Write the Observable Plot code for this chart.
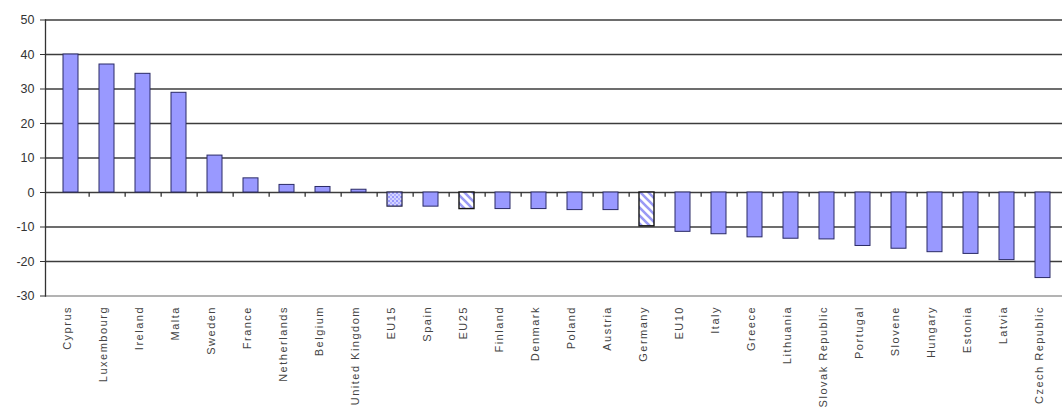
<!DOCTYPE html>
<html>
<head>
<meta charset="utf-8">
<script src="https://cdn.jsdelivr.net/npm/d3@7"></script>
<script src="https://cdn.jsdelivr.net/npm/@observablehq/plot@0.6"></script>
<style>
  html, body { margin: 0; padding: 0; background: #fff; }
  #chart svg { display: block; }
</style>
</head>
<body>
<div id="chart"></div>
<script>
// Percentage change by country, ordered from largest gain to largest fall
const countries = [
  "Cyprus", "Luxembourg", "Ireland", "Malta", "Sweden", "France", "Netherlands",
  "Belgium", "United Kingdom", "EU15", "Spain", "EU25", "Finland", "Denmark",
  "Poland", "Austria", "Germany", "EU10", "Italy", "Greece", "Lithuania",
  "Slovak Republic", "Portugal", "Slovene", "Hungary", "Estonia", "Latvia",
  "Czech Republic"
];
const change = [
  40.0, 37.1, 34.4, 28.9, 10.7, 4.1, 2.2,
  1.6, 0.8, -4.1, -4.1, -4.8, -4.8, -4.8,
  -5.1, -5.1, -9.8, -11.4, -12.1, -13.0, -13.4,
  -13.6, -15.5, -16.3, -17.3, -17.8, -19.6,
  -24.8
];
// Bars drawn with a pattern instead of the solid fill
const dottedBars = ["EU15"];
const stripedBars = ["EU25", "Germany"];
const yTicks = [50, 40, 30, 20, 10, 0, -10, -20, -30];

const data = countries.map((country, i) => ({country, value: change[i]}));
const solid = data.filter(d => !dottedBars.includes(d.country) && !stripedBars.includes(d.country));
const dotted = data.filter(d => dottedBars.includes(d.country));
const striped = data.filter(d => stripedBars.includes(d.country));

const xRange = [48, 1065];
const step = (xRange[1] - xRange[0]) / countries.length;
const font = "'Liberation Sans', Arial, sans-serif";

const chart = Plot.plot({
  width: 1062,
  height: 409,
  marginLeft: 45,
  marginRight: 0,
  marginTop: 19.5,
  marginBottom: 113.5,
  style: {fontFamily: font, background: "#fff", color: "#333"},
  x: {domain: countries, range: xRange, paddingInner: 0.58, paddingOuter: 0.29},
  y: {domain: [-30, 50]},
  marks: [
    Plot.ruleY(yTicks.filter(t => t !== -30), {stroke: "#3c3c3c", strokeWidth: 1.7}),
    Plot.ruleY([-30], {stroke: "#9a9a9a", strokeWidth: 1.7}),
    Plot.barY(solid, {x: "country", y: "value", fill: "#9999ff", stroke: "#2a2a66", strokeWidth: 1}),
    Plot.barY(dotted, {x: "country", y: "value", fill: "url(#dots)", stroke: "#222244", strokeWidth: 1.2}),
    Plot.barY(striped, {x: "country", y: "value", fill: "url(#stripes)", stroke: "#111", strokeWidth: 1.4}),
    Plot.ruleX(countries.slice(0, -1), {x: d => d, y1: 0, y2: -1.4, dx: step / 2, stroke: "#333", strokeWidth: 1.3}),
    Plot.frame({anchor: "left", stroke: "#333", strokeWidth: 1.3}),
    Plot.axisY({ticks: yTicks, tickFormat: d => String(d), tickSize: 5, tickPadding: 6, label: null, fontSize: 12.5, fill: "#333", stroke: "#333"}),
    Plot.axisX({anchor: "bottom", tickSize: 0, tickPadding: 10, tickRotate: -90, label: null, fontSize: 11, dx: -4, fill: "#444"})
  ]
});

// Fill patterns for the hatched bars
const svg = d3.select(chart);
const defs = svg.insert("defs", ":first-child");
const dots = defs.append("pattern")
  .attr("id", "dots").attr("patternUnits", "userSpaceOnUse")
  .attr("width", 4).attr("height", 4);
dots.append("rect").attr("width", 4).attr("height", 4).attr("fill", "#d4d4ff");
dots.append("rect").attr("width", 2).attr("height", 2).attr("fill", "#9999ff");
dots.append("rect").attr("x", 2).attr("y", 2).attr("width", 2).attr("height", 2).attr("fill", "#b0b0ff");
const stripes = defs.append("pattern")
  .attr("id", "stripes").attr("patternUnits", "userSpaceOnUse")
  .attr("width", 8).attr("height", 8);
stripes.append("rect").attr("width", 8).attr("height", 8).attr("fill", "#fff");
stripes.append("path")
  .attr("d", "M-2,-2L10,10M-2,6L2,10M6,-2L10,2")
  .attr("stroke", "#9a9af5").attr("stroke-width", 2.6);

// Slightly spaced country labels
svg.selectAll("g[aria-label='x-axis tick label'] text").style("letter-spacing", "1.5px");

document.getElementById("chart").append(chart);
</script>
</body>
</html>
